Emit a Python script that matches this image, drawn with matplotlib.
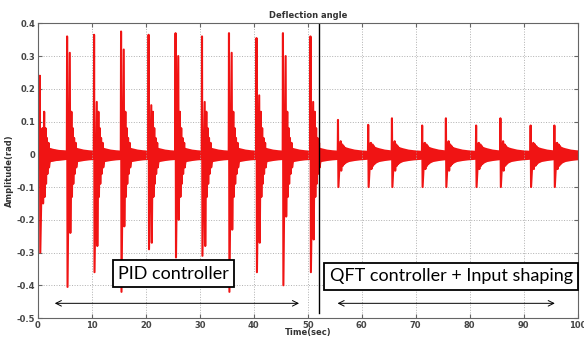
import numpy as np
import matplotlib.pyplot as plt

# PID part: spike times (s) and extreme values (rad)
pid_t = [0.35, 5.4, 10.4, 15.4, 20.5, 25.5, 30.4, 35.4, 40.5, 45.4, 50.5]
pid_peak = [0.24, 0.36, 0.365, 0.375, 0.365, 0.37, 0.36, 0.37, 0.355, 0.37, 0.36]
pid_trough = [-0.30, -0.405, -0.36, -0.42, -0.29, -0.315, -0.31, -0.42, -0.36, -0.40, -0.36]
pid_peak2 = [0.08, 0.31, 0.16, 0.32, 0.15, 0.30, 0.16, 0.31, 0.18, 0.30, 0.16]
pid_trough2 = [-0.15, -0.24, -0.28, -0.22, -0.27, -0.20, -0.28, -0.23, -0.27, -0.19, -0.26]

# QFT + input shaping part
qft_t = [55.6, 61.2, 65.6, 71.2, 75.6, 81.2, 85.7, 91.3, 95.7]
qft_peak = [0.105, 0.09, 0.11, 0.088, 0.11, 0.088, 0.11, 0.088, 0.088]
qft_trough = [-0.10, -0.10, -0.10, -0.10, -0.10, -0.10, -0.10, -0.10, -0.10]
qft_peak2 = [0.04, 0.035, 0.04, 0.035, 0.04, 0.035, 0.04, 0.035, 0.035]
qft_trough2 = [-0.05, -0.045, -0.05, -0.045, -0.05, -0.045, -0.05, -0.045, -0.045]

# ringing after each spike (offsets in s, amplitude in rad)
ring_dt = [-0.05, 0.0, 0.08, 0.5, 0.6, 0.8, 0.9, 1.05, 1.15, 1.3, 1.4, 1.6, 1.7, 2.0]
pid_ring = [0.13, -0.13, 0.08, -0.09, 0.05, -0.06, 0.035, -0.04]
qft_ring = [0.03, -0.035, 0.025, -0.03, 0.02, -0.025, 0.015, -0.02]

# fast oscillation band between the spikes (envelope)
band_dt = [0.0, 0.6, 1.2, 2.0, 3.0, 4.0, 5.6]
band_hi = [0.04, 0.03, 0.024, 0.02, 0.016, 0.014, 0.012]
band_lo = [-0.05, -0.035, -0.028, -0.022, -0.019, -0.017, -0.015]

red = '#f01414'

fig = plt.figure(figsize=(5.84, 3.38), dpi=100)
ax = fig.add_axes([0.065, 0.059, 0.924, 0.872])

xs, ys = [0.0], [0.0]
for t0, p, tr, p2, tr2 in zip(pid_t, pid_peak, pid_trough, pid_peak2, pid_trough2):
    xs += [t0 + d for d in ring_dt]
    ys += [0.0, p, tr, p2, tr2] + pid_ring + [0.0]
for t0, p, tr, p2, tr2 in zip(qft_t, qft_peak, qft_trough, qft_peak2, qft_trough2):
    xs += [t0 + d for d in ring_dt]
    ys += [0.0, p, tr, p2, tr2] + qft_ring + [0.0]
xs.append(100.0)
ys.append(0.0)

for t0 in [0.0] + pid_t + qft_t:
    bx = [t0 + d for d in band_dt]
    ax.fill_between(bx, band_lo, band_hi, color=red, lw=0)
ax.plot(xs, ys, color=red, lw=1.5)

ax.set_xlim(0, 100)
ax.set_ylim(-0.5, 0.4)
ax.set_xticks(range(0, 101, 10))
ax.set_yticks([0.4, 0.3, 0.2, 0.1, 0, -0.1, -0.2, -0.3, -0.4, -0.5])
ax.set_yticklabels(['0.4', '0.3', '0.2', '0.1', '0', '-0.1', '-0.2', '-0.3', '-0.4', '-0.5'])
ax.grid(True, ls=':', color='#b0b0b0', lw=0.7)
ax.tick_params(direction='in', length=3, top=True, right=True, labelsize=6,
               labelcolor='#444444', color='#666666', pad=2)
for lab in ax.get_xticklabels() + ax.get_yticklabels():
    lab.set_fontweight('bold')
for s in ax.spines.values():
    s.set_color('#666666')
    s.set_linewidth(0.8)

ax.set_title('Deflection angle', fontsize=6, fontweight='bold', color='#333333', pad=4)
ax.set_xlabel('Time(sec)', fontsize=6, fontweight='bold', color='#333333', labelpad=-1)
ax.set_ylabel('Amplitude(rad)', fontsize=6, fontweight='bold', color='#333333', labelpad=2)

# divider between the two controllers
ax.plot([52, 52], [0.4, -0.485], color='black', lw=1)

box = dict(boxstyle='square,pad=0.3', fc='white', ec='black', lw=1.3)
ax.text(25.1, -0.364, 'PID controller', fontsize=13, family='Lato',
        ha='center', va='center', bbox=box)
ax.text(76.6, -0.372, 'QFT controller + Input shaping', fontsize=13, family='Lato',
        ha='center', va='center', bbox=box, clip_on=False)

ax.annotate('', xy=(2.6, -0.455), xytext=(48.9, -0.455),
            arrowprops=dict(arrowstyle='<->', color='black', lw=0.7))
ax.annotate('', xy=(55.0, -0.455), xytext=(96.3, -0.455),
            arrowprops=dict(arrowstyle='<->', color='black', lw=0.7))

fig.savefig('out.png', dpi=100)
